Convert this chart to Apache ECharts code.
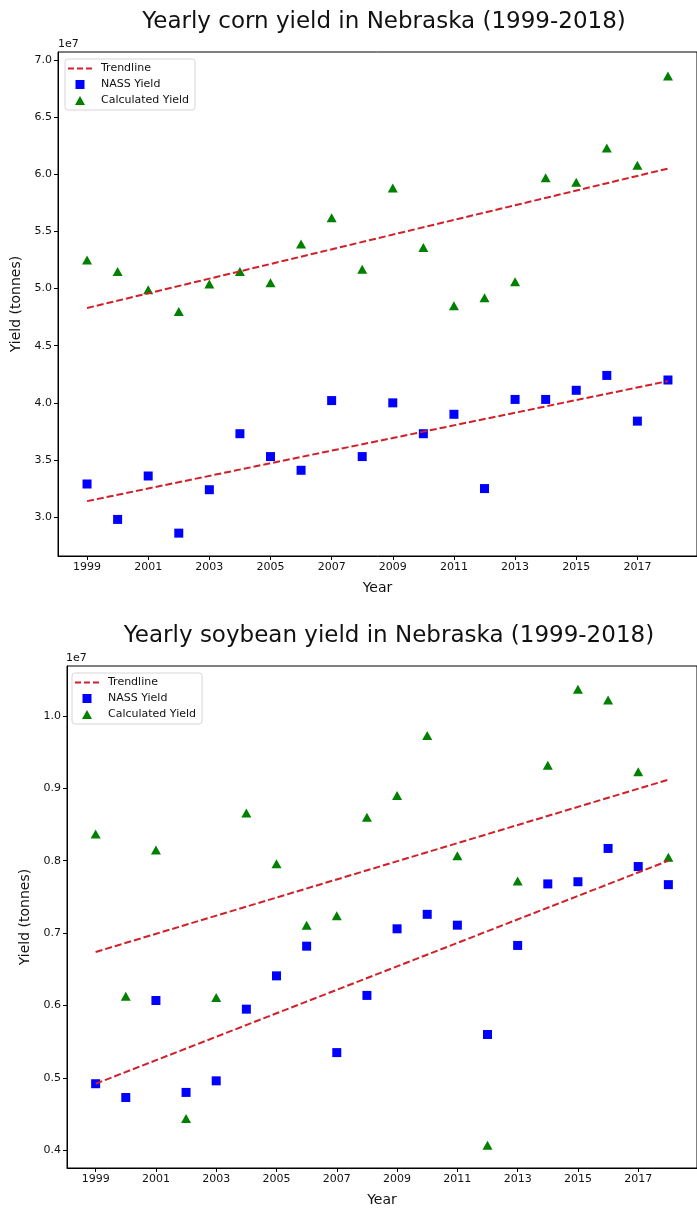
<!DOCTYPE html>
<html>
<head>
<meta charset="utf-8">
<script src="https://cdn.jsdelivr.net/npm/echarts@6/dist/echarts.min.js"></script>
<style>
  html, body { margin: 0; padding: 0; background: #fff; }
  #chart { width: 697px; height: 1208px; }
</style>
</head>
<body>
<div id="chart"></div>
<script>
// data (tonnes)
const years = [1999, 2000, 2001, 2002, 2003, 2004, 2005, 2006, 2007, 2008,
               2009, 2010, 2011, 2012, 2013, 2014, 2015, 2016, 2017, 2018]
const yearTicks = [1999, 2001, 2003, 2005, 2007, 2009, 2011, 2013, 2015, 2017]

const cornNass = [3.29e7, 2.98e7, 3.36e7, 2.86e7, 3.24e7, 3.73e7, 3.53e7, 3.41e7, 4.02e7, 3.53e7,
                  4.00e7, 3.73e7, 3.90e7, 3.25e7, 4.03e7, 4.03e7, 4.11e7, 4.24e7, 3.84e7, 4.20e7]
const cornCalc = [5.25e7, 5.15e7, 4.99e7, 4.80e7, 5.04e7, 5.15e7, 5.05e7, 5.39e7, 5.62e7, 5.17e7,
                  5.88e7, 5.36e7, 4.85e7, 4.92e7, 5.06e7, 5.97e7, 5.93e7, 6.23e7, 6.08e7, 6.86e7]
const cornTrendNass = [3.14e7, 4.19e7]   // 1999 -> 2018
const cornTrendCalc = [4.83e7, 6.05e7]
const cornTicks = [3.0e7, 3.5e7, 4.0e7, 4.5e7, 5.0e7, 5.5e7, 6.0e7, 6.5e7, 7.0e7]

const soyNass = [0.492e7, 0.473e7, 0.607e7, 0.480e7, 0.496e7, 0.595e7, 0.641e7, 0.682e7, 0.535e7, 0.614e7,
                 0.706e7, 0.726e7, 0.711e7, 0.560e7, 0.683e7, 0.768e7, 0.771e7, 0.817e7, 0.792e7, 0.767e7]
const soyCalc = [0.837e7, 0.613e7, 0.815e7, 0.444e7, 0.611e7, 0.866e7, 0.796e7, 0.711e7, 0.724e7, 0.860e7,
                 0.890e7, 0.973e7, 0.807e7, 0.407e7, 0.772e7, 0.932e7, 1.037e7, 1.022e7, 0.923e7, 0.805e7]
const soyTrendNass = [0.492e7, 0.800e7]
const soyTrendCalc = [0.674e7, 0.912e7]
const soyTicks = [0.4e7, 0.5e7, 0.6e7, 0.7e7, 0.8e7, 0.9e7, 1.0e7]

const FONT = 'DejaVu Sans'
const RED = '#d0202a'
// legend handles (kept to aspect inside the legend box)
const DASH_ICON = 'path://M0,0 L6,0 L6,2 L0,2 Z M9,0 L15,0 L15,2 L9,2 Z M18,0 L24,0 L24,2 L18,2 Z'
const SQUARE_ICON = 'path://M0,0 L10,0 L10,10 L0,10 Z'
const TRI_ICON = 'path://M5,0 L10,9 L0,9 Z'

function pairs(ys) {
    return years.map((y, i) => [y, ys[i]])
}
function trend(t) {
    return [[years[0], t[0]], [years[years.length - 1], t[1]]]
}

function xAxisOpt(idx) {
    return {
        type: 'value', gridIndex: idx, min: 1998.05, max: 2018.95,
        name: 'Year', nameLocation: 'middle', nameGap: 25,
        nameTextStyle: { fontFamily: FONT, fontSize: 14, color: '#111' },
        axisLine: { lineStyle: { color: '#000', width: 1 } },
        axisTick: { show: true, length: 4, customValues: yearTicks, lineStyle: { color: '#000' } },
        axisLabel: { customValues: yearTicks, fontFamily: FONT, fontSize: 11, color: '#111', margin: 6,
                     formatter: v => String(v) },
        splitLine: { show: false }
    }
}
function yAxisOpt(idx, min, max, ticks) {
    return {
        type: 'value', gridIndex: idx, min: min, max: max,
        name: 'Yield (tonnes)', nameLocation: 'middle', nameGap: 30,
        nameTextStyle: { fontFamily: FONT, fontSize: 14, color: '#111' },
        axisLine: { show: true, lineStyle: { color: '#000', width: 1 } },
        axisTick: { show: true, length: 4, customValues: ticks, lineStyle: { color: '#000' } },
        axisLabel: {
            customValues: ticks, fontFamily: FONT, fontSize: 11, color: '#111', margin: 6,
            formatter: v => (v / 1e7).toFixed(1)
        },
        splitLine: { show: false }
    }
}
function legendOpt(left, top) {
    return {
        orient: 'vertical', left: left, top: top,
        data: [
            { name: 'Trendline', icon: DASH_ICON },
            { name: 'NASS Yield', icon: SQUARE_ICON },
            { name: 'Calculated Yield', icon: TRI_ICON }
        ],
        symbolKeepAspect: true,
        itemWidth: 24, itemHeight: 9, itemGap: 5,
        padding: [4, 6, 4, 3],
        backgroundColor: '#fff', borderColor: '#d6d6d6', borderWidth: 1, borderRadius: 3,
        textStyle: { fontFamily: FONT, fontSize: 11, color: '#111', padding: [0, 0, 0, 4] },
        selectedMode: false
    }
}
function seriesFor(idx, nass, calc, tN, tC) {
    return [
        { name: 'NASS Yield', type: 'scatter', xAxisIndex: idx, yAxisIndex: idx,
          symbol: 'rect', symbolSize: 9, itemStyle: { color: '#0000ff', opacity: 1 }, data: pairs(nass), z: 2 },
        { name: 'Calculated Yield', type: 'scatter', xAxisIndex: idx, yAxisIndex: idx,
          symbol: 'triangle', symbolSize: [10, 9], itemStyle: { color: '#008000', opacity: 1 }, data: pairs(calc), z: 2 },
        { name: 'Trendline', type: 'line', xAxisIndex: idx, yAxisIndex: idx, symbol: 'none',
          lineStyle: { color: RED, width: 2, type: [7, 3] }, itemStyle: { color: RED },
          data: trend(tN), z: 3 },
        { name: 'Trendline', type: 'line', xAxisIndex: idx, yAxisIndex: idx, symbol: 'none',
          lineStyle: { color: RED, width: 2, type: [7, 3] }, itemStyle: { color: RED },
          data: trend(tC), z: 3 }
    ]
}

const myChart = echarts.init(document.getElementById('chart'), null, { renderer: 'canvas' })
myChart.setOption({
    backgroundColor: '#fff',
    animation: false,
    title: [
        { text: 'Yearly corn yield in Nebraska (1999-2018)', left: 379, top: 6, textAlign: 'center',
          textStyle: { fontFamily: FONT, fontSize: 23, fontWeight: 'normal', color: '#111' } },
        { text: 'Yearly soybean yield in Nebraska (1999-2018)', left: 384, top: 620, textAlign: 'center',
          textStyle: { fontFamily: FONT, fontSize: 23, fontWeight: 'normal', color: '#111' } }
    ],
    legend: [legendOpt(65, 59), legendOpt(72, 673)],
    grid: [
        { left: 58, top: 52, height: 504, right: -10, show: true, borderColor: '#000', borderWidth: 1 },
        { left: 67, top: 666, height: 504, right: -16, show: true, borderColor: '#000', borderWidth: 1 }
    ],
    xAxis: [xAxisOpt(0), xAxisOpt(1)],
    yAxis: [yAxisOpt(0, 2.66e7, 7.07e7, cornTicks), yAxisOpt(1, 0.3756e7, 1.069e7, soyTicks)],
    graphic: [
        { type: 'text', left: 58, top: 39, style: { text: '1e7', fontFamily: FONT, fontSize: 11, fill: '#111' } },
        { type: 'text', left: 66, top: 653, style: { text: '1e7', fontFamily: FONT, fontSize: 11, fill: '#111' } }
    ],
    series: seriesFor(0, cornNass, cornCalc, cornTrendNass, cornTrendCalc)
        .concat(seriesFor(1, soyNass, soyCalc, soyTrendNass, soyTrendCalc))
})
window.addEventListener('resize', () => {
    if (myChart) myChart.resize()
})
</script>
</body>
</html>
